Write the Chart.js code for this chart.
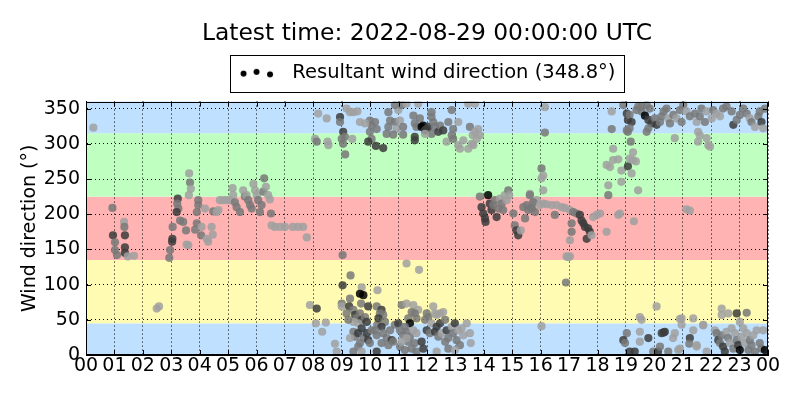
<!DOCTYPE html>
<html>
<head>
<meta charset="utf-8">
<script src="https://cdn.jsdelivr.net/npm/chart.js@4/dist/chart.umd.min.js"></script>
<style>
html, body { margin: 0; padding: 0; background: #fff; }
#wrap { width: 800px; height: 400px; }
</style>
</head>
<body>
<div id="wrap"><canvas id="windChart" width="800" height="400"></canvas></div>
<script>
// 圖表文字
const titleText = 'Latest time: 2022-08-29 00:00:00 UTC';
const legendText = 'Resultant wind direction (348.8°)';
const yTitle = 'Wind direction (°)';
const hourLabels = ['00','01','02','03','04','05','06','07','08','09','10','11','12',
  '13','14','15','16','17','18','19','20','21','22','23','00'];

// 方位區間 (度) 與底色
const bandEdges = [0, 45, 135, 225, 315, 360];
const bandColors = ['#bfe0ff', '#fffbb3', '#ffb3b3', '#bfffbf', '#bfe0ff'];

// 觀測資料：時間 (小時)、風向 (度)、風速 (m/s，決定灰階)
const hours = [
  0.26, 0.93, 0.95, 1.02, 1.02, 1.09, 1.37, 1.37, 1.37, 1.34,
  1.35, 1.47, 1.69, 2.49, 2.57,
  3.23, 3.21, 3.25, 3.19, 3.05, 3.04, 3.03, 2.96, 2.93, 3.31,
  3.42, 3.52, 3.54, 3.6, 3.63, 3.66, 3.69, 3.62, 3.95, 3.95,
  3.9, 4.19, 3.9, 3.84, 4.05, 4.07, 4.25, 4.3, 4.42, 4.46,
  4.48, 4.6, 4.66, 4.71, 4.83, 4.95, 5.07, 5.16, 5.18, 5.24,
  5.3, 5.42, 5.53, 5.59, 5.65, 5.71, 5.77, 5.83, 5.89, 5.95,
  6.01, 6.06, 6.12, 6.18, 6.24, 6.27, 6.33, 6.41, 6.47, 6.51,
  6.53, 6.65, 6.83, 7.0, 7.28, 7.46, 7.64, 7.77, 8.06, 8.12,
  8.17, 7.88, 8.12, 8.09, 8.31, 8.44, 8.76, 8.82, 8.47, 8.5,
  8.53, 8.94, 8.94, 9.05, 9.11, 9.0, 9.05, 9.37, 9.12, 9.17,
  9.29, 9.41, 9.55, 9.03, 9.31, 9.03, 9.29, 9.0, 9.0, 9.7,
  9.64, 9.76, 9.68, 9.93, 9.26, 9.41, 9.47, 9.52, 9.64, 9.7,
  9.82, 9.88, 9.58, 9.41, 9.23, 9.17, 9.41, 9.47, 9.58, 9.7,
  9.76, 9.88, 9.93, 10.05, 9.99, 9.64, 9.29, 9.41, 9.58, 9.7,
  10.26, 10.25, 10.23, 10.4, 10.34, 10.46, 10.29, 10.52, 10.4, 10.17,
  10.23, 10.46, 10.58, 10.7, 10.76, 10.4, 10.64, 10.23, 10.87, 10.99,
  10.81, 11.28, 11.72, 11.11, 11.52, 11.28, 11.69, 11.46, 11.57, 11.63,
  11.34, 11.40, 11.22, 11.05, 11.28, 11.16, 11.40, 11.52, 11.63, 11.34,
  11.57, 11.05, 11.22, 11.46, 11.63, 11.28, 11.11, 11.99, 11.93, 12.05,
  12.22, 12.28, 12.34, 12.46, 12.57, 12.16, 12.34, 12.46, 12.64, 11.99,
  12.1, 12.28, 12.4, 12.52, 12.69, 12.64, 12.75, 12.87, 12.92, 12.98,
  13.04, 13.1, 13.22, 13.28, 13.16, 13.4, 13.51, 13.54, 11.81, 11.87,
  12.34, 12.75, 12.98,
  9.99, 10.05, 10.17, 10.23, 9.99, 10.05, 9.93, 10.2, 10.46, 9.82,
  9.64, 10.64, 10.7, 10.64, 10.58, 10.87, 10.93, 10.99, 10.87, 11.11,
  11.28, 11.05, 11.16, 10.81, 11.16, 11.52, 11.57, 11.63, 11.57, 11.57,
  11.75, 11.81, 11.87, 11.93, 11.99, 12.05, 12.16, 12.16, 12.22, 12.28,
  12.16, 12.4, 12.46, 12.57, 11.69, 11.93, 12.69, 12.75, 12.87, 12.92,
  12.87, 12.92, 13.1, 13.1, 13.16, 13.28, 13.45, 13.51, 13.61, 13.69,
  13.75, 13.8, 13.86, 13.57, 13.63, 13.45, 13.69,
  13.86, 13.92, 13.98, 14.04, 14.06, 14.15, 14.21, 14.27, 14.33, 14.39,
  14.45, 14.51, 14.57, 14.63, 14.68, 14.74, 14.8, 14.86, 14.89, 15.04,
  15.09, 15.15, 15.21, 15.3, 15.39, 15.51, 15.62, 15.56, 15.68, 15.74,
  15.8, 15.86, 15.45, 15.62, 15.74, 15.97, 16.09, 16.21, 16.39, 16.56,
  16.74, 16.85, 15.68, 16.5, 16.03, 16.09, 16.03, 16.09, 16.15, 16.15,
  16.03, 17.03, 17.15, 17.27, 17.38, 17.44, 17.5, 17.56, 17.67, 17.73,
  17.62, 17.79, 17.85, 17.97, 18.09, 17.09, 17.09, 17.03, 16.97, 18.32,
  18.73, 18.79, 19.28, 17.03, 16.91, 16.89, 18.38, 18.38, 18.32, 18.44,
  18.55, 18.73, 18.55, 18.84, 18.84, 19.07, 19.13, 19.25, 19.2, 19.25,
  19.35, 19.43, 19.03, 19.17, 18.5, 18.5, 18.91, 19.03, 19.07, 19.13,
  19.2, 19.37, 19.43, 19.55, 19.67, 19.55, 19.73, 19.84, 19.79, 19.9,
  20.02, 20.08, 20.2, 20.26, 20.33, 20.43, 20.49, 20.55, 20.67, 20.78,
  20.9, 20.96, 21.02, 21.13, 21.25, 21.43, 21.49, 21.6, 21.66, 21.78,
  21.84, 22.02, 22.07, 22.19, 22.31, 22.42, 22.54, 22.72, 22.78, 22.9,
  23.01, 23.13, 23.25, 23.36, 23.42, 23.54, 23.66, 23.71, 23.77, 23.83,
  23.89, 21.54, 21.6, 21.54, 21.84, 21.9, 21.96, 20.72, 19.73, 19.79,
  19.07, 19.13, 21.13, 21.25, 20.08, 19.49, 19.55, 19.03, 18.91, 18.97,
  19.13, 19.31, 19.49, 19.49, 19.79, 19.96, 20.13, 20.26, 20.33, 20.2,
  20.49, 20.72, 20.66, 20.84, 20.9, 20.96, 20.96, 21.25, 21.23, 21.37,
  21.37, 21.49, 21.72, 21.84, 22.13, 22.19, 22.25, 22.31, 22.37, 22.42,
  22.48, 22.54, 22.6, 22.66, 22.72, 22.78, 22.84, 22.9, 22.95, 23.01,
  23.07, 23.13, 23.19, 23.25, 23.31, 23.36, 23.42, 23.48, 23.54, 23.6,
  23.71, 23.77, 23.83, 23.89, 22.37, 22.37, 22.6, 22.9, 23.25, 23.01,
  20.9, 21.72, 21.49, 20.37
];
const direction = [
  323, 209, 170, 160, 149, 142, 170, 153, 145, 189,
  182, 140, 141, 66, 69,
  222, 215, 208, 203, 182, 165, 161, 149, 138, 191,
  189, 177, 157, 156, 258, 245, 236, 227, 220, 213,
  203, 208, 187, 178, 170, 182, 165, 161, 182, 171,
  204, 203, 206, 220, 220, 220, 220, 237, 227, 217,
  210, 203, 234, 225, 227, 220, 213, 208, 243, 234,
  227, 220, 203, 213, 232, 251, 239, 227, 221, 201,
  184, 182, 182, 182, 182, 182, 182, 167, 307, 303,
  343, 71, 66, 45, 33, 46, 16, 5, 336, 303,
  298, 338, 331, 317, 310, 307, 300, 307, 285, 350,
  345, 345, 346, 142, 113, 99, 80, 73, 69, 96,
  87, 85, 73, 69, 69, 64, 57, 52, 59, 50,
  54, 47, 45, 47, 50, 59, 33, 26, 31, 38,
  24, 31, 21, 35, 17, 17, 24, 5, 12, 5,
  92, 43, 69, 64, 59, 57, 52, 47, 40, 35,
  28, 31, 24, 35, 21, 17, 14, 5, 43, 45,
  19, 130, 121, 71, 71, 73, 64, 61, 59, 52,
  52, 45, 40, 35, 33, 28, 26, 35, 31, 19,
  17, 12, 7, 9, 5, 24, 19, 59, 50, 54,
  69, 59, 57, 59, 61, 45, 40, 45, 50, 35,
  31, 33, 26, 31, 35, 19, 24, 40, 31, 45,
  21, 35, 38, 28, 14, 45, 31, 17, 19, 9,
  5, 9, 7,
  333, 326, 331, 321, 317, 307, 303, 297, 294, 329,
  331, 345, 333, 324, 314, 331, 321, 348, 355, 355,
  357, 333, 324, 313, 313, 340, 329, 324, 310, 305,
  336, 324, 326, 319, 321, 324, 345, 338, 331, 324,
  314, 317, 326, 319, 357, 314, 303, 331, 348, 321,
  312, 307, 331, 298, 293, 305, 293, 324, 312, 317,
  307, 321, 312, 300, 298, 357, 357,
  225, 210, 201, 194, 189, 227, 215, 206, 213, 220,
  196, 208, 222, 215, 206, 227, 220, 234, 227, 201,
  184, 177, 170, 177, 210, 213, 229, 206, 210, 218,
  203, 220, 194, 227, 217, 213, 215, 214, 213, 213,
  210, 209, 208, 199, 265, 255, 251, 234, 316, 352,
  41, 206, 203, 201, 199, 191, 187, 182, 180, 175,
  165, 170, 196, 199, 201, 187, 175, 163, 139, 175,
  199, 201, 190, 140, 140, 103, 241, 227, 270, 267,
  277, 278, 293, 262, 246, 268, 279, 288, 258, 277,
  275, 234, 319, 303, 321, 346, 355, 343, 334, 341,
  331, 348, 353, 346, 340, 353, 355, 350, 334, 329,
  336, 327, 331, 339, 346, 350, 336, 329, 341, 336,
  348, 331, 355, 346, 339, 343, 331, 339, 350, 331,
  346, 336, 348, 343, 339, 350, 353, 346, 327, 334,
  341, 350, 343, 336, 331, 324, 339, 346, 331, 322,
  350, 317, 312, 303, 308, 298, 296, 308, 317, 322,
  317, 322, 207, 205, 69, 54, 50, 31, 21, 17,
  5, 5, 33, 19, 24, 5, 5, 31, 32, 12,
  5, 31, 24, 7, 9, 52, 43, 24, 16, 52,
  35, 12, 43, 5, 35, 31, 21, 17, 28, 12,
  5, 33, 24, 17, 38, 9, 31, 21, 14, 7,
  26, 38, 17, 31, 7, 21, 14, 28, 5, 35,
  17, 9, 35, 7, 66, 57, 59, 59, 60, 47,
  51, 42, 14, 33
];
const speed = [
  2, 4, 7, 4, 4, 4, 7, 7, 7, 2,
  4, 2, 2, 2, 2,
  7, 4, 4, 7, 4, 7, 7, 4, 4, 4,
  4, 4, 2, 2, 2, 4, 2, 2, 4, 4,
  4, 2, 4, 4, 4, 2, 2, 2, 2, 2,
  4, 2, 2, 2, 2, 2, 2, 2, 2, 4,
  4, 4, 2, 4, 2, 4, 4, 4, 2, 2,
  2, 4, 4, 4, 4, 4, 2, 2, 2, 4,
  2, 2, 2, 2, 2, 2, 2, 2, 2, 4,
  2, 2, 7, 2, 2, 2, 2, 2, 2, 2,
  2, 7, 4, 7, 4, 4, 4, 2, 4, 2,
  2, 2, 2, 4, 4, 7, 4, 4, 2, 2,
  10, 10, 4, 7, 7, 4, 7, 4, 4, 7,
  4, 7, 2, 2, 4, 4, 4, 4, 7, 7,
  4, 7, 7, 4, 4, 4, 2, 4, 4, 2,
  2, 4, 4, 7, 4, 4, 7, 4, 7, 4,
  4, 4, 4, 4, 7, 4, 4, 7, 4, 7,
  4, 2, 2, 4, 2, 2, 2, 4, 4, 4,
  4, 10, 4, 4, 4, 4, 4, 2, 2, 4,
  4, 4, 4, 4, 4, 2, 2, 4, 4, 4,
  2, 2, 2, 2, 2, 2, 7, 7, 4, 7,
  4, 7, 4, 2, 7, 4, 4, 2, 4, 7,
  4, 2, 2, 2, 4, 2, 2, 2, 7, 7,
  2, 4, 2,
  4, 4, 4, 4, 4, 4, 7, 7, 7, 2,
  2, 4, 4, 4, 4, 4, 2, 2, 4, 4,
  2, 2, 4, 4, 4, 4, 4, 4, 7, 7,
  4, 10, 10, 7, 7, 7, 4, 4, 4, 4,
  4, 7, 4, 7, 2, 2, 2, 4, 4, 4,
  4, 4, 2, 2, 2, 2, 2, 4, 2, 2,
  2, 2, 2, 2, 2, 2, 2,
  4, 7, 7, 7, 7, 10, 7, 7, 4, 4,
  7, 4, 2, 4, 4, 2, 2, 4, 2, 4,
  4, 7, 7, 2, 4, 4, 2, 4, 4, 2,
  4, 2, 4, 4, 4, 2, 2, 2, 2, 2,
  2, 2, 4, 4, 4, 2, 2, 2, 4, 2,
  2, 2, 4, 4, 7, 7, 7, 7, 7, 7,
  7, 2, 2, 2, 2, 4, 4, 2, 2, 2,
  2, 2, 2, 2, 2, 4, 2, 4, 2, 2,
  2, 2, 2, 2, 2, 7, 2, 2, 2, 2,
  2, 2, 4, 4, 4, 2, 4, 7, 7, 4,
  7, 4, 4, 4, 10, 4, 4, 4, 7, 7,
  4, 7, 4, 4, 4, 4, 2, 4, 4, 2,
  4, 4, 4, 2, 4, 4, 2, 4, 4, 4,
  2, 2, 4, 2, 2, 4, 4, 4, 7, 4,
  4, 4, 4, 2, 4, 2, 4, 4, 7, 2,
  4, 2, 2, 2, 2, 2, 2, 2, 4, 4,
  4, 4, 2, 2, 2, 2, 2, 4, 7, 4,
  7, 7, 2, 2, 7, 4, 7, 7, 7, 4,
  4, 2, 2, 2, 2, 2, 2, 7, 4, 2,
  2, 2, 2, 2, 2, 4, 7, 4, 4, 7,
  7, 2, 4, 2, 2, 4, 2, 4, 7, 10,
  2, 2, 2, 2, 4, 4, 4, 2, 4, 2,
  4, 4, 2, 10, 2, 2, 2, 7, 4, 2,
  2, 2, 2, 7
];

// 風速 -> 灰階 (越快越深)
function greyFor(v) {
  const g = Math.round(200 - 20 * v);
  return `rgba(${g},${g},${g},0.85)`;
}

// 圖例用的三點符號
function makeDots() {
  const c = document.createElement('canvas');
  c.width = 53; c.height = 20;
  const g = c.getContext('2d');
  g.fillStyle = '#000';
  [[13.5, 10.7], [26.5, 9], [40, 11.5]].forEach(p => {
    g.beginPath();
    g.arc(p[0], p[1], 3, 0, Math.PI * 2);
    g.fill();
  });
  return c;
}

// 背景色帶、外框、內側刻度、圖例外框
const decorPlugin = {
  id: 'decor',
  afterLayout(chart) {
    const a = chart.chartArea;
    const t = chart.titleBlock;
    const l = chart.legend;
    t.left = a.left; t.right = a.right; t.width = a.right - a.left;
    l.left = a.left; l.right = a.right - 8; l.width = l.right - l.left;
    l.top -= 9; l.bottom -= 9;
  },
  beforeDraw(chart) {
    const { ctx, chartArea: a, scales: { y } } = chart;
    ctx.save();
    ctx.fillStyle = '#fff';
    ctx.fillRect(0, 0, chart.width, chart.height);
    for (let i = 0; i < bandColors.length; i++) {
      const top = y.getPixelForValue(bandEdges[i + 1]);
      const bottom = y.getPixelForValue(bandEdges[i]);
      ctx.fillStyle = bandColors[i];
      ctx.fillRect(a.left, top, a.right - a.left, bottom - top);
    }
    ctx.restore();
  },
  afterDraw(chart) {
    const { ctx, chartArea: a, scales: { x, y } } = chart;
    ctx.save();
    ctx.strokeStyle = '#000';
    ctx.lineWidth = 1;
    ctx.beginPath();
    x.ticks.forEach(t => {
      const px = Math.round(x.getPixelForValue(t.value)) + 0.5;
      ctx.moveTo(px, a.bottom); ctx.lineTo(px, a.bottom - 5);
      ctx.moveTo(px, a.top); ctx.lineTo(px, a.top + 5);
    });
    y.ticks.forEach(t => {
      const py = Math.round(y.getPixelForValue(t.value)) + 0.5;
      ctx.moveTo(a.left, py); ctx.lineTo(a.left + 5, py);
      ctx.moveTo(a.right, py); ctx.lineTo(a.right - 5, py);
    });
    ctx.stroke();
    ctx.strokeRect(Math.round(a.left) + 0.5, Math.round(a.top) + 0.5,
      Math.round(a.right - a.left) - 1, Math.round(a.bottom - a.top) - 1);
    const hb = chart.legend.legendHitBoxes[0];
    if (hb) {
      ctx.strokeRect(Math.round(hb.left) - 0.5, Math.round(hb.top) - 7.5,
        Math.round(hb.width) + 9, Math.round(hb.height) + 17);
    }
    ctx.restore();
  }
};

Chart.defaults.font.family = '"DejaVu Sans", sans-serif';
Chart.defaults.color = '#000';

const points = hours.map((h, i) => ({ x: h, y: direction[i] }));

new Chart(document.getElementById('windChart'), {
  type: 'scatter',
  data: {
    datasets: [{
      label: legendText,
      data: points,
      pointRadius: 4.1,
      pointHoverRadius: 4.1,
      borderWidth: 0,
      backgroundColor: speed.map(greyFor),
      clip: 0
    }]
  },
  plugins: [decorPlugin],
  options: {
    responsive: false,
    animation: false,
    events: [],
    layout: { padding: { left: 0, right: 32, top: 0, bottom: 0 } },
    plugins: {
      tooltip: { enabled: false },
      title: {
        display: true,
        text: titleText,
        font: { size: 23.4, weight: 'normal' },
        color: '#000',
        padding: { top: 20, bottom: 0 }
      },
      legend: {
        display: true,
        labels: {
          font: { size: 19.5 },
          color: '#000',
          padding: 24,
          usePointStyle: true,
          pointStyleWidth: 52,
          generateLabels() {
            return [{
              text: legendText,
              pointStyle: makeDots(),
              fillStyle: '#000',
              strokeStyle: '#000',
              lineWidth: 0,
              hidden: false,
              datasetIndex: 0,
              fontColor: '#000'
            }];
          }
        }
      }
    },
    scales: {
      x: {
        type: 'linear',
        min: 0,
        max: 24,
        afterFit(s) { s.height = 45; },
        ticks: {
          stepSize: 1,
          autoSkip: false,
          maxRotation: 0,
          padding: 0,
          font: { size: 19 },
          color: '#000',
          callback: (v) => hourLabels[v]
        },
        grid: { color: '#000', lineWidth: 1, drawTicks: false },
        border: { display: true, color: '#000', dash: [1, 3] }
      },
      y: {
        type: 'linear',
        min: 0,
        max: 360,
        afterFit(s) { s.width = 86; },
        ticks: {
          stepSize: 50,
          includeBounds: false,
          padding: 6,
          font: { size: 19 },
          color: '#000'
        },
        grid: { color: '#000', lineWidth: 1, drawTicks: false },
        border: { display: true, color: '#000', dash: [1, 3] },
        title: {
          display: true,
          text: yTitle,
          font: { size: 19 },
          color: '#000',
          padding: { top: 19, bottom: 0 }
        }
      }
    }
  }
});
</script>
</body>
</html>
